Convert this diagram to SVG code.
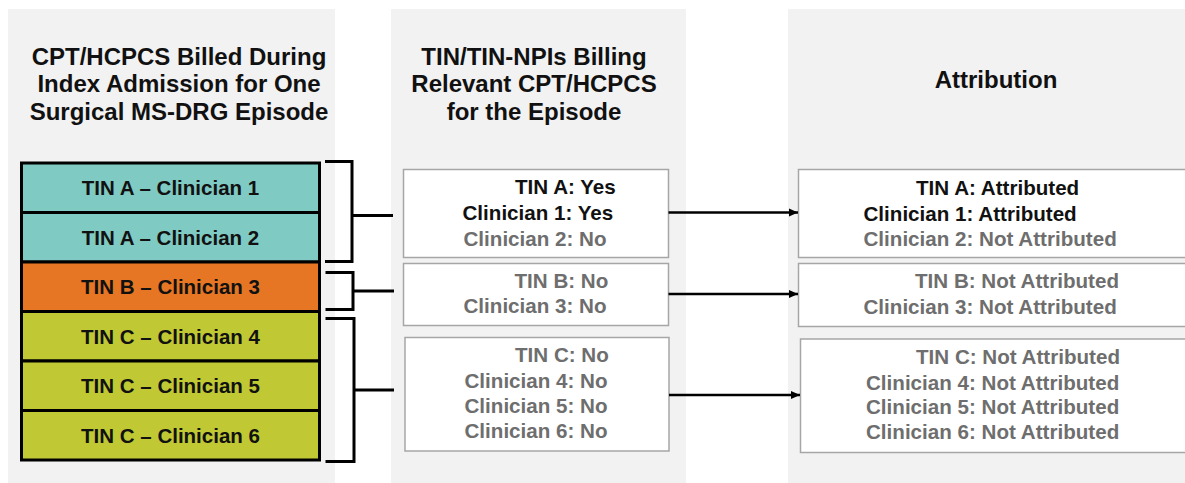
<svg xmlns="http://www.w3.org/2000/svg" width="1185" height="483" viewBox="0 0 1185 483">
<defs>
<style>
text{font-family:"Liberation Sans",Arial,sans-serif;font-weight:bold}
.title{font-size:24px;fill:#111;text-anchor:middle}
.cell{font-size:20.5px;fill:#111;text-anchor:middle}
.t{font-size:20.6px}
.k{fill:#111}
.g{fill:#6e6e6e}
.panel{fill:#f2f2f2}
.box{fill:#fff;stroke:#a6a6a6;stroke-width:1.5}
.cbox{stroke:#000;stroke-width:3}
.br{fill:none;stroke:#000;stroke-width:3}
.ar{fill:none;stroke:#000;stroke-width:2.5}
</style>
<marker id="ah" markerUnits="userSpaceOnUse" markerWidth="10" markerHeight="10" refX="9" refY="5" orient="auto">
<path d="M0,1 L9,5 L0,9 z" fill="#000"/>
</marker>
</defs>
<rect width="1185" height="483" fill="#fff"/>
<g id="panels">
<rect class="panel" x="8" y="9" width="327" height="474"/>
<rect class="panel" x="391" y="9" width="295" height="474"/>
<rect class="panel" x="788" y="9" width="397" height="474"/>
</g>
<g id="titles">
<text class="title" x="179" y="64.5">CPT/HCPCS Billed During</text>
<text class="title" x="179" y="92">Index Admission for One</text>
<text class="title" x="179" y="119.5">Surgical MS-DRG Episode</text>
<text class="title" x="534" y="64.5">TIN/TIN-NPIs Billing</text>
<text class="title" x="534" y="92">Relevant CPT/HCPCS</text>
<text class="title" x="534" y="119.5">for the Episode</text>
<text class="title" x="996" y="88">Attribution</text>
</g>
<g id="clin1"><rect class="cbox" x="21.5" y="163" width="298" height="49.5" fill="#7fcac3"/><text class="cell" x="170.5" y="195">TIN A – Clinician 1</text></g>
<g id="clin2"><rect class="cbox" x="21.5" y="212.5" width="298" height="49.5" fill="#7fcac3"/><text class="cell" x="170.5" y="244.5">TIN A – Clinician 2</text></g>
<g id="clin3"><rect class="cbox" x="21.5" y="262" width="298" height="49.5" fill="#e67624"/><text class="cell" x="170.5" y="294">TIN B – Clinician 3</text></g>
<g id="clin4"><rect class="cbox" x="21.5" y="311.5" width="298" height="49.5" fill="#c0c933"/><text class="cell" x="170.5" y="343.5">TIN C – Clinician 4</text></g>
<g id="clin5"><rect class="cbox" x="21.5" y="361" width="298" height="49.5" fill="#c0c933"/><text class="cell" x="170.5" y="393">TIN C – Clinician 5</text></g>
<g id="clin6"><rect class="cbox" x="21.5" y="410.5" width="298" height="49.5" fill="#c0c933"/><text class="cell" x="170.5" y="442.5">TIN C – Clinician 6</text></g>
<g id="billA">
<rect class="box" x="403.5" y="169.5" width="265" height="88"/>
<text class="t k" x="515" y="194">TIN A: Yes</text>
<text class="t k" x="462.5" y="220">Clinician 1: Yes</text>
<text class="t g" x="463.5" y="245.5">Clinician 2: No</text>
</g>
<g id="billB">
<rect class="box" x="403.5" y="263.5" width="265" height="62"/>
<text class="t g" x="514.5" y="287.5">TIN B: No</text>
<text class="t g" x="463.5" y="313">Clinician 3: No</text>
</g>
<g id="billC">
<rect class="box" x="405" y="337.5" width="264" height="113.5"/>
<text class="t g" x="515" y="362">TIN C: No</text>
<text class="t g" x="464.5" y="388">Clinician 4: No</text>
<text class="t g" x="464.5" y="413">Clinician 5: No</text>
<text class="t g" x="464.5" y="437.5">Clinician 6: No</text>
</g>
<g id="attrA">
<rect class="box" x="798.5" y="169.5" width="400" height="88"/>
<text class="t k" x="916" y="194.5">TIN A: Attributed</text>
<text class="t k" x="863.5" y="221">Clinician 1: Attributed</text>
<text class="t g" x="863.5" y="246">Clinician 2: Not Attributed</text>
</g>
<g id="attrB">
<rect class="box" x="798.5" y="263.5" width="400" height="63"/>
<text class="t g" x="915" y="288">TIN B: Not Attributed</text>
<text class="t g" x="863.5" y="314">Clinician 3: Not Attributed</text>
</g>
<g id="attrC">
<rect class="box" x="800.5" y="339" width="400" height="113.5"/>
<text class="t g" x="916" y="364">TIN C: Not Attributed</text>
<text class="t g" x="866" y="389.5">Clinician 4: Not Attributed</text>
<text class="t g" x="866" y="414">Clinician 5: Not Attributed</text>
<text class="t g" x="866" y="438.5">Clinician 6: Not Attributed</text>
</g>
<g id="connectors">
<path class="br" d="M325,161.5 H352 V261.5 H325 M352,215.5 H393"/>
<path class="br" d="M325.5,272.5 H353 V309.5 H325.5 M353,291 H394"/>
<path class="br" d="M325.5,318.5 H354 V461.5 H325.5 M354,390 H394"/>
<line class="ar" x1="668.5" y1="212.5" x2="798" y2="212.5" marker-end="url(#ah)"/>
<line class="ar" x1="668.5" y1="294" x2="798" y2="294" marker-end="url(#ah)"/>
<line class="ar" x1="669" y1="395" x2="800" y2="395" marker-end="url(#ah)"/>
</g>
</svg>
